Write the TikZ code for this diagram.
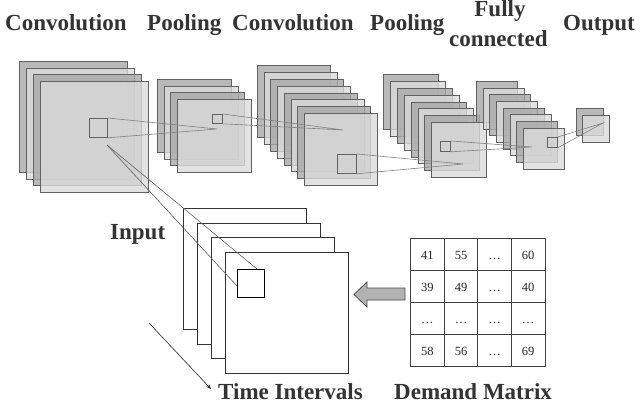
\documentclass[tikz,border=0pt]{standalone}
\usepackage{fontspec}
\setmainfont{Liberation Serif}
\usetikzlibrary{arrows.meta,calc,matrix}
\tikzset{
  fmap/.style={draw=black!62, line width=0.8pt, fill opacity=0.8, rectangle, inner sep=0pt, anchor=north west},
  smallsq/.style={draw=black!62, line width=0.8pt, rectangle, inner sep=0pt, anchor=north west},
  inmap/.style={draw=black!80, line width=0.8pt, fill=white, rectangle, inner sep=0pt, anchor=north west},
  link/.style={draw=black!50, line width=0.6pt},
  lbl/.style={font=\fontsize{23}{24}\selectfont\bfseries, text=black!80, inner sep=0pt, anchor=base west},
  cell/.style={draw=black!75, line width=0.8pt, minimum width=33.6pt, text height=21pt, text depth=10.85pt, inner sep=0pt, font=\fontsize{12.5}{13}\selectfont, text=black!85},
}
\newcommand\fmstack[8]{%
  \foreach \i in {1,...,#6}{%
    \pgfmathsetmacro\xx{#2+(\i-1)*#4}%
    \pgfmathsetmacro\yy{#3+(\i-1)*#5}%
    \ifodd\i \def\fc{black!34}\else\def\fc{black!14}\fi
    \node[fmap, fill=\fc, minimum width=#7pt, minimum height=#8pt] (#1\i) at (\xx,\yy) {};
  }}
\begin{document}
\begin{tikzpicture}[x=1pt,y=-1pt]
\useasboundingbox (0,0) rectangle (640,409);
% titles
\node[lbl] (tconv1) at (5,31) {Convolution};
\node[lbl] (tpool1) at (147,31) {Pooling};
\node[lbl] (tconv2) at (232,31) {Convolution};
\node[lbl] (tpool2) at (370,31) {Pooling};
\node[lbl, anchor=base] (tfully) at (500,17) {Fully};
\node[lbl] (tconn) at (449,47) {connected};
\node[lbl] (tout) at (563,31) {Output};
% feature map stacks
\fmstack{ca}{19}{61}{7}{6.7}{4}{108}{111}
\fmstack{pa}{157}{79}{6.7}{6.7}{4}{74}{73}
\fmstack{cb}{257}{65}{6.7}{6.9}{8}{73}{72}
\fmstack{pb}{383}{74}{6.9}{6.9}{8}{55}{55}
\fmstack{fc}{476}{81}{6.7}{6.7}{8}{41}{41}
\fmstack{ou}{576}{108}{6}{7}{2}{27}{27}
% small receptive squares
\node[smallsq, minimum width=18pt, minimum height=19pt] (c1s) at (89,118) {};
\node[smallsq, minimum width=10pt, minimum height=9pt] (p1s) at (212,114) {};
\node[smallsq, minimum width=19pt, minimum height=19pt] (c2s) at (337,154) {};
\node[smallsq, minimum width=10pt, minimum height=10pt] (p2s) at (440,141) {};
\node[smallsq, minimum width=10pt, minimum height=10pt] (fcs) at (547,137) {};
\coordinate (t1) at (217,129);
\coordinate (t2) at (343,130);
\coordinate (t3) at (463,164);
\coordinate (t4) at (532,147);
\coordinate (t5) at (603,123);
\coordinate (s0) at (107,145);
\draw[link] (c1s.north east) -- (t1) -- (c1s.south east);
\draw[link] (p1s.north east) -- (t2) -- (p1s.south east);
\draw[link] (c2s.north east) -- (t3) -- (c2s.south east);
\draw[link] (p2s.north east) -- (t4) -- (p2s.south east);
\draw[link] (fcs.north east) -- (t5) -- (fcs.south east);
% input stack
\foreach \i in {1,...,4}{%
  \pgfmathsetmacro\xx{183+(\i-1)*14}%
  \pgfmathsetmacro\yy{208+(\i-1)*14.7}%
  \node[inmap, minimum width=123pt, minimum height=121pt] (in\i) at (\xx,\yy) {};
}
\node[smallsq, draw=black, line width=1pt, minimum width=27pt, minimum height=28pt] (ins) at (237,269) {};
\draw[line width=0.6pt, draw=black!62] (s0) -- ([yshift=-17pt]ins.north west);
\draw[line width=0.6pt, draw=black!62] (s0) -- ([xshift=20pt]ins.north west);
% labels
\node[lbl] (tinput) at (110,239) {Input};
\node[lbl] (ttime) at (218,399) {Time Intervals};
\node[lbl] (tdem) at (394,399) {Demand Matrix};
\coordinate (ta) at (149,323);
\draw[line width=0.6pt, draw=black!85, -{Stealth[length=5pt,width=4pt]}] (ta) -- ([shift={(-7pt,10pt)}]ttime.base west);
% demand matrix
\matrix (dm) [matrix of nodes, anchor=north west, nodes={cell}, column sep=-0.8pt, row sep=-0.8pt, inner sep=0pt] at (410,238) {
41 & 55 & \dots & 60 \\
39 & 49 & \dots & 40 \\
\dots & \dots & \dots & \dots \\
58 & 56 & \dots & 69 \\
};
% block arrow
\draw[draw=black!70, line width=0.8pt, fill=black!30] (405,288) -- (367,288) -- (367,282) -- (354,294.5) -- (367,307) -- (367,300) -- (405,300) -- cycle;
\end{tikzpicture}
\end{document}
